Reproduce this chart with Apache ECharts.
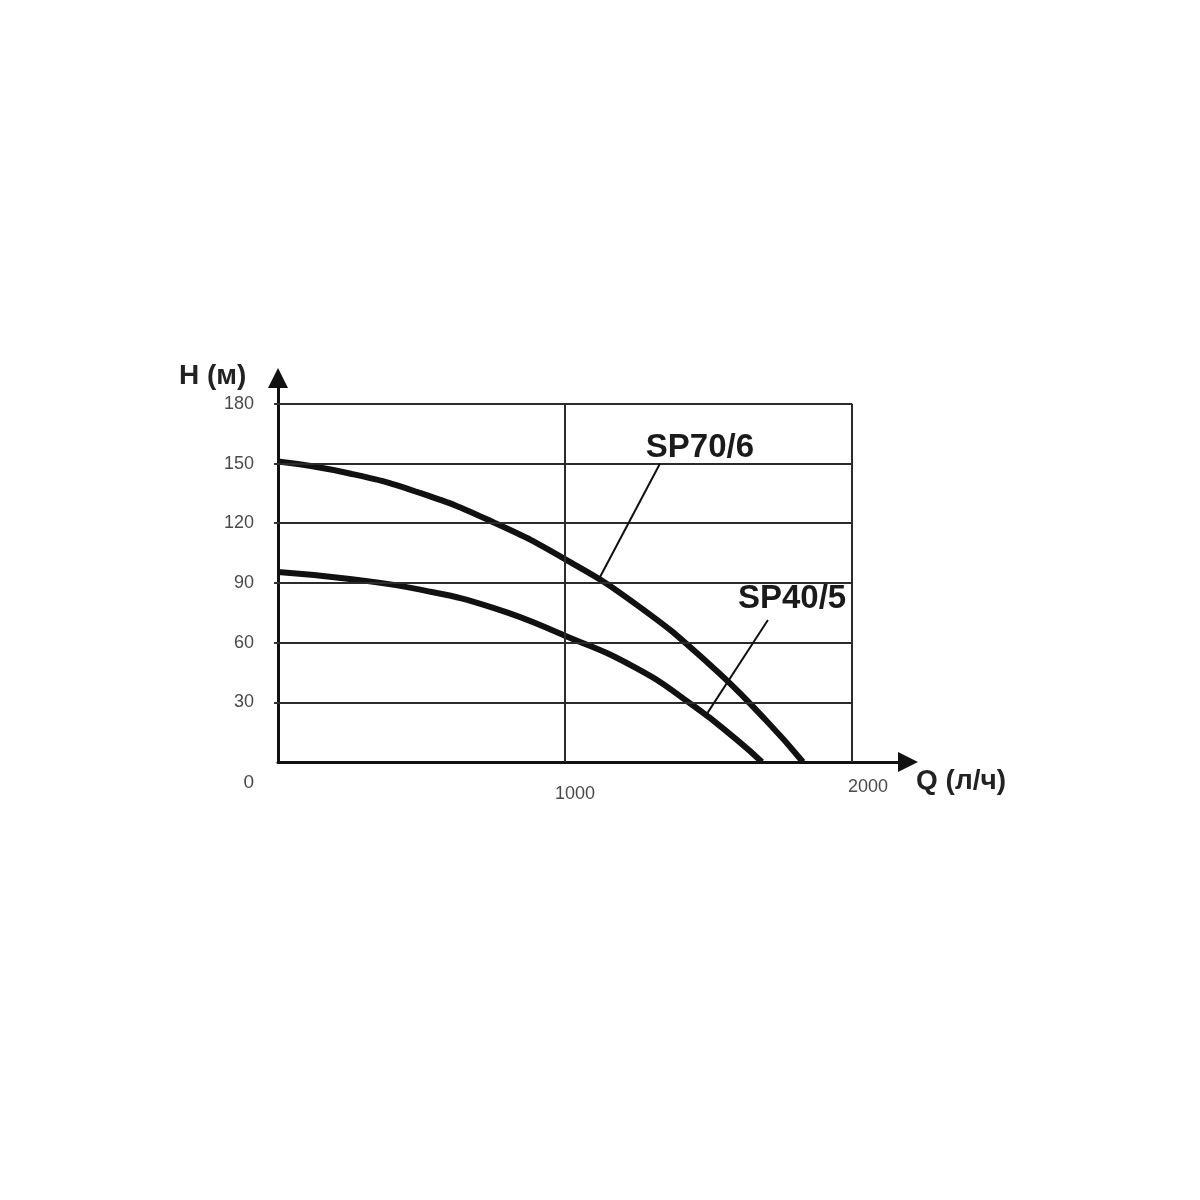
<!DOCTYPE html>
<html>
<head>
<meta charset="utf-8">
<script src="https://cdn.jsdelivr.net/npm/echarts@6/dist/echarts.min.js"></script>
<style>html,body{margin:0;padding:0;background:#fff}#c{width:1200px;height:1200px}</style>
</head>
<body>
<div id="c"></div>
<script>
// ---- data ----
const sp70_6 = [[0,151],[250,145],[500,135],[750,120.5],[1000,102],[1250,79],[1500,49.5],[1700,21],[1829,0]];
const sp40_5 = [[0,95.5],[250,92],[500,86.5],[750,77.5],[1000,63.5],[1250,47],[1450,28],[1600,11],[1686,0]];
const yTicks = [30,60,90,120,150,180];
const xTicks = [1000,2000];
const xMaxGrid = 2000, yMaxGrid = 180;
const seriesNames = ['SP70/6','SP40/5'];
// annotation anchors (data units)
const label70 = [1470,158];
const leader70 = [[1122,93],[1331,150]];
const label40 = [1791,82];
const leader40 = [[1488,22.8],[1707,71.4]];

const FONT = "'Liberation Sans', Arial, sans-serif";

const gridLines = [];
yTicks.forEach(v => gridLines.push([{coord:[0,v]},{coord:[xMaxGrid,v]}]));
xTicks.forEach(v => gridLines.push([{coord:[v,0]},{coord:[v,yMaxGrid]}]));

const chart = echarts.init(document.getElementById('c'), null, {renderer:'canvas'});
chart.setOption({
  animation:false,
  backgroundColor:'#fff',
  grid:{left:278, right:292, top:378, bottom:438, containLabel:false},
  xAxis:{
    type:'value', min:0, max:2195,
    axisLine:{show:true, lineStyle:{color:'#111', width:3}, symbol:['none','triangle'], symbolSize:[20,20]},
    axisTick:{show:false},
    splitLine:{show:false},
    axisLabel:{
      customValues: xTicks,
      margin:16,
      fontFamily:FONT, fontSize:18, color:'#4a4a4a',
      formatter: v => v === 1000 ? '{a|1000}' : '{b|' + v + '}',
      rich:{
        a:{fontFamily:FONT, fontSize:18, color:'#4a4a4a', padding:[7,0,0,20]},
        b:{fontFamily:FONT, fontSize:18, color:'#4a4a4a', padding:[0,0,0,32]}
      }
    }
  },
  yAxis:{
    type:'value', min:0, max:193,
    axisLine:{show:true, lineStyle:{color:'#111', width:3}, symbol:['none','triangle'], symbolSize:[20,20]},
    axisTick:{show:true, customValues: yTicks, length:4, lineStyle:{color:'#333', width:2}},
    splitLine:{show:false},
    axisLabel:{
      customValues: [0].concat(yTicks),
      margin:24,
      fontFamily:FONT, fontSize:18, color:'#4a4a4a',
      formatter: v => v === 0 ? '{o|0}' : String(v),
      rich:{ o:{fontFamily:FONT, fontSize:19, color:'#4a4a4a', padding:[42,0,0,0]} }
    }
  },
  graphic:[
    {type:'text', left:179, top:362, style:{text:'H (м)', font:"bold 28px " + FONT, fill:'#222'}},
    {type:'text', left:916, top:767, style:{text:'Q (л/ч)', font:"bold 28px " + FONT, fill:'#222'}}
  ],
  series:[
    {
      name:'grid', type:'line', data:[], silent:true,
      markLine:{silent:true, symbol:['none','none'], label:{show:false},
        lineStyle:{color:'#2b2b2b', width:2, type:'solid'}, data:gridLines, animation:false}
    },
    {
      name:seriesNames[0], type:'line', data:sp70_6, smooth:0.5,
      showSymbol:false, symbol:'none', clip:false,
      lineStyle:{color:'#111', width:6, cap:'butt'},
      markLine:{silent:true, symbol:['none','none'], label:{show:false},
        lineStyle:{color:'#111', width:2, type:'solid'},
        data:[[{coord:leader70[0]},{coord:leader70[1]}]]},
      markPoint:{symbol:'circle', symbolSize:0,
        label:{show:true, position:'inside', formatter:seriesNames[0], fontFamily:FONT, fontWeight:'bold', fontSize:33, color:'#1a1a1a'},
        data:[{coord:label70}]}
    },
    {
      name:seriesNames[1], type:'line', data:sp40_5, smooth:0.5,
      showSymbol:false, symbol:'none', clip:false,
      lineStyle:{color:'#111', width:6, cap:'butt'},
      markLine:{silent:true, symbol:['none','none'], label:{show:false},
        lineStyle:{color:'#111', width:2, type:'solid'},
        data:[[{coord:leader40[0]},{coord:leader40[1]}]]},
      markPoint:{symbol:'circle', symbolSize:0,
        label:{show:true, position:'inside', formatter:seriesNames[1], fontFamily:FONT, fontWeight:'bold', fontSize:33, color:'#1a1a1a'},
        data:[{coord:label40}]}
    }
  ]
});
</script>
</body>
</html>
